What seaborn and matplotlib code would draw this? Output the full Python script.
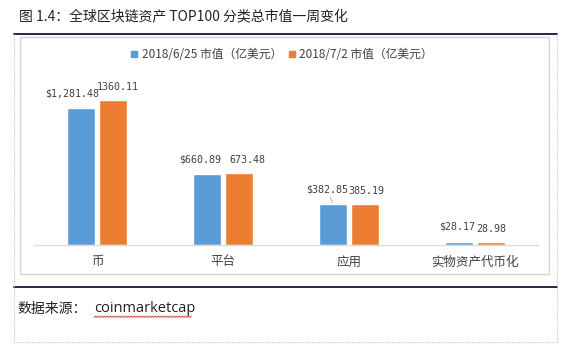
import matplotlib
matplotlib.use("Agg")
import matplotlib.pyplot as plt
from matplotlib.lines import Line2D
from matplotlib.patches import Rectangle
import seaborn as sns
import pandas as pd

# ---- data ----
categories = ["币", "平台", "应用", "实物资产代币化"]
series_names = ["2018/6/25 市值（亿美元）", "2018/7/2 市值（亿美元）"]
values_0625 = [1281.48, 660.89, 382.85, 28.17]
values_0702 = [1360.11, 673.48, 385.19, 28.98]
title_text = "图 1.4：全球区块链资产 TOP100 分类总市值一周变化"
source_label = "数据来源："
source_name = "coinmarketcap"

colors = ["#5b9bd5", "#ed7d31"]

df = pd.DataFrame({
    "category": categories * 2,
    "series": [series_names[0]] * 4 + [series_names[1]] * 4,
    "value": values_0625 + values_0702,
})

sns.set_style("white")
plt.rcParams["font.family"] = ["Noto Sans CJK SC", "DejaVu Sans"]

W, H = 569, 360
fig = plt.figure(figsize=(W / 100, H / 100), dpi=100)
fig.patch.set_facecolor("white")

def fx(px):
    return px / W

def fy(py):
    return 1 - py / H

# frame decorations
fig.add_artist(Line2D([fx(14), fx(557)], [fy(34), fy(34)], color="#15153a", lw=1.3))
fig.add_artist(Line2D([fx(14), fx(557)], [fy(287), fy(287)], color="#15153a", lw=1.3))
fig.add_artist(Rectangle((fx(20), fy(274)), fx(549) - fx(20), fy(37) - fy(274),
                         fill=False, edgecolor="#d4d4d4", lw=1.0))
for xs, ys in [([fx(14), fx(14)], [fy(34), fy(342)]),
               ([fx(557), fx(557)], [fy(34), fy(342)]),
               ([fx(14), fx(557)], [fy(342), fy(342)])]:
    fig.add_artist(Line2D(xs, ys, color="#c8c8c8", lw=0.8, ls=(0, (1, 1))))

fig.text(fx(19), fy(16), title_text, fontsize=10, color="#222222", va="center", ha="left")
fig.text(fx(17), fy(309), source_label, fontsize=10, color="#222222", va="center", ha="left")
fig.text(fx(94), fy(309), source_name, fontsize=10.5, color="#222222", va="center", ha="left",
         family=["Open Sans", "DejaVu Sans"])
# spell-check style wavy underline (decoration)
zx, zy = [], []
px = 94.0
k = 0
while px <= 192:
    zx.append(fx(px))
    zy.append(fy(317.5 if k % 2 == 0 else 316))
    px += 1.5
    k += 1
fig.add_artist(Line2D(zx, zy, color="#c0392b", lw=0.6))

# axes
ymax = 1600
ax = fig.add_axes([fx(34), fy(245), fx(538) - fx(34), (245 - 74) / H])
sns.barplot(data=df, x="category", y="value", hue="series", order=categories,
            hue_order=series_names, palette=colors, width=0.508, gap=0.125,
            saturation=1, ax=ax, legend=False)
ax.set_xlim(-0.5, 3.5)
ax.set_ylim(0, ymax)
ax.set_xlabel("")
ax.set_ylabel("")
ax.set_yticks([])
for s in ["top", "right", "left"]:
    ax.spines[s].set_visible(False)
ax.spines["bottom"].set_color("#d9d9d9")
ax.spines["bottom"].set_linewidth(0.9)
ax.tick_params(axis="x", length=0, pad=7.5, labelsize=9, labelcolor="#404040")
ax.set_facecolor("none")

# bar labels
label_dx = [[-9, -7, -6, -2], [5, 8, 1, 0]]
label_dy = [15, 13]
for si, cont in enumerate(ax.containers):
    vals = values_0625 if si == 0 else values_0702
    for ci, (bar, v) in enumerate(zip(cont, vals)):
        txt = f"${v:,.2f}" if si == 0 else f"{v:.2f}"
        cx = bar.get_x() + bar.get_width() / 2
        kw = {}
        if si == 0 and ci == 2:
            kw["arrowprops"] = dict(arrowstyle="-", color="#a6a6a6", lw=0.6,
                                    shrinkA=0, shrinkB=1)
        ax.annotate(txt, (cx, bar.get_height()),
                    xytext=(label_dx[si][ci] * 0.72, label_dy[si] * 0.72),
                    textcoords="offset points", ha="center", va="center",
                    fontsize=7.2, color="#404040", family="DejaVu Sans Mono", **kw)

# legend
handles = [Line2D([], [], marker="s", ls="", color=c, markersize=4.5) for c in colors]
fig.legend(handles, series_names, loc="center", bbox_to_anchor=(fx(282), fy(55)),
           ncol=2, frameon=False, fontsize=8.5, handlelength=0.6, handletextpad=0.3,
           columnspacing=0.6, labelcolor="#404040")

fig.savefig("out.png", dpi=100, facecolor="white")
